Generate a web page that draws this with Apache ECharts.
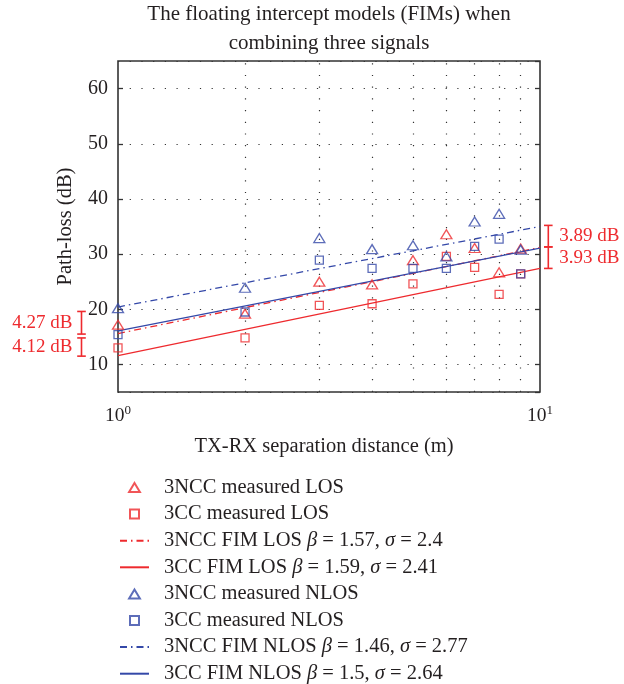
<!DOCTYPE html>
<html>
<head>
<meta charset="utf-8">
<script src="https://cdn.jsdelivr.net/npm/echarts@6/dist/echarts.min.js"></script>
<style>html,body{margin:0;padding:0;background:#fff}#c{width:624px;height:684px}</style>
</head>
<body>
<div id="c"></div>
<script>
// ---- data ----
const distances = [1, 2, 3, 4, 5, 6, 7, 8, 9];
const ncc3Los  = [17.2, 19.2, 25.0, 24.5, 28.9, 33.6, 31.1, 26.7, 31.0];
const cc3Los   = [13.0, 14.8, 20.7, 21.0, 24.6, 29.6, 27.6, 22.7, 26.4];
const ncc3Nlos = [20.2, 23.9, 32.9, 30.9, 31.6, 29.6, 35.9, 37.3, 30.8];
const cc3Nlos  = [15.4, 19.5, 28.9, 27.4, 27.4, 27.4, 31.4, 32.7, 26.4];
// FIM fitted lines: [distance, path-loss] end points
const fimNccLos  = [[1, 15.6], [10, 31.2]];
const fimCcLos   = [[1, 11.6], [10, 27.4]];
const fimNccNlos = [[1, 20.4], [10, 35.0]];
const fimCcNlos  = [[1, 16.1], [10, 31.1]];
// minor x grid positions
const xMinorGrid = [2, 3, 4, 5, 6, 7, 8, 9];
// brackets [low, high] with labels
const leftBrackets  = [[15.5, 19.6], [11.5, 14.8]];
const leftLabels    = ['4.27 dB', '4.12 dB'];
const rightBrackets = [[31.3, 35.2], [27.4, 31.3]];
const rightLabels   = ['3.89 dB', '3.93 dB'];
const seriesNames = [
  '3NCC measured LOS', '3CC measured LOS', '3NCC FIM LOS', '3CC FIM LOS',
  '3NCC measured NLOS', '3CC measured NLOS', '3NCC FIM NLOS', '3CC FIM NLOS'
];
const legendRich = {
  '3NCC FIM LOS':  '3NCC FIM LOS {i|β} = 1.57, {i|σ} = 2.4',
  '3CC FIM LOS':   '3CC FIM LOS {i|β} = 1.59, {i|σ} = 2.41',
  '3NCC FIM NLOS': '3NCC FIM NLOS {i|β} = 1.46, {i|σ} = 2.77',
  '3CC FIM NLOS':  '3CC FIM NLOS {i|β} = 1.5, {i|σ} = 2.64'
};

const RED = '#ee2a2e', BLUE = '#3448a8', INK = '#231f20';
const FONT = '"Liberation Serif", "DejaVu Serif", serif';
const TRI = 'path://M6,0L12,10L0,10Z';
const SQR = 'path://M0,0L10,0L10,10L0,10Z';

const pts = arr => distances.map((d, i) => [d, arr[i]]);

function scatter(name, data, symbol, color, size) {
  return {
    name, type: 'scatter', data: pts(data), symbol, symbolSize: size,
    itemStyle: { color: 'rgba(0,0,0,0)', borderColor: color, borderWidth: 1.3 },
    z: 5, xAxisIndex: 0, yAxisIndex: 0
  };
}
function line(name, data, color, dash, extra) {
  return Object.assign({
    name, type: 'line', data, symbol: 'circle', showSymbol: false,
    lineStyle: { color, width: 1.3, type: dash },
    itemStyle: { color: 'rgba(0,0,0,0)', borderWidth: 0 }, z: 4, xAxisIndex: 0, yAxisIndex: 0
  }, extra || {});
}

function bracketSeries(brackets, labels, side) {
  return {
    type: 'custom', clip: false, silent: true, z: 6,
    xAxisIndex: 0, yAxisIndex: 0,
    data: brackets.map((b, i) => [side === 'left' ? 1 : 10, b[0], b[1], i]),
    renderItem: function (params, api) {
      const xv = api.value(0), lo = api.value(1), hi = api.value(2), idx = api.value(3);
      const pLo = api.coord([xv, lo]), pHi = api.coord([xv, hi]);
      const x = side === 'left' ? pLo[0] - 36.5 : pLo[0] + 8.3;
      const cap = 4.3;
      const st = { stroke: RED, lineWidth: 1.6 };
      return {
        type: 'group',
        children: [
          { type: 'line', shape: { x1: x, y1: pLo[1], x2: x, y2: pHi[1] }, style: st },
          { type: 'line', shape: { x1: x - cap, y1: pLo[1], x2: x + cap, y2: pLo[1] }, style: st },
          { type: 'line', shape: { x1: x - cap, y1: pHi[1], x2: x + cap, y2: pHi[1] }, style: st },
          { type: 'text', style: {
              text: labels[idx],
              x: side === 'left' ? x - 9 : x + 11,
              y: (pLo[1] + pHi[1]) / 2,
              textAlign: side === 'left' ? 'right' : 'left',
              textVerticalAlign: 'middle',
              fill: RED, font: '19px ' + FONT
          } }
        ]
      };
    }
  };
}

const chart = echarts.init(document.getElementById('c'), null, { renderer: 'canvas' });
const dotted = { color: '#333', width: 1.2, type: [1.2, 10.5] };

chart.setOption({
  animation: false,
  backgroundColor: '#fff',
  title: {
    text: 'The floating intercept models (FIMs) when\ncombining three signals',
    left: 329, top: 0, textAlign: 'center', padding: 0,
    textStyle: { fontFamily: FONT, fontSize: 21, fontWeight: 'normal', color: INK, lineHeight: 29 }
  },
  grid: { left: 118, right: 84, top: 61, bottom: 292, show: true, borderColor: '#333', borderWidth: 1.6, backgroundColor: 'rgba(0,0,0,0)' },
  xAxis: [{
    type: 'log', logBase: 10, min: 1, max: 10, position: 'bottom',
    name: 'TX-RX separation distance (m)', nameLocation: 'middle', nameGap: 44,
    nameTextStyle: { fontFamily: FONT, fontSize: 20.5, color: INK, padding: [0, 10, 0, 0] },
    axisLine: { show: false }, axisTick: { show: false },
    splitLine: { show: false },
    axisLabel: {
      margin: 12, fontFamily: FONT, fontSize: 19, color: INK,
      formatter: v => '{b|10}{s|' + Math.round(Math.log10(v)) + '}',
      rich: { b: { fontFamily: FONT, fontSize: 19.5, color: INK }, s: { fontFamily: FONT, fontSize: 13, color: INK, verticalAlign: 'top', padding: [0, 0, 10, 0] } }
    }
  }],
  yAxis: [{
    type: 'value', min: 5, max: 65, splitNumber: 6,
    name: 'Path-loss (dB)', nameLocation: 'middle', nameGap: 42,
    nameTextStyle: { fontFamily: FONT, fontSize: 20.5, color: INK },
    axisLine: { show: false },
    axisTick: { show: true, inside: true, length: 5, lineStyle: { color: '#333', width: 1.3 } },
    splitLine: { show: true, lineStyle: dotted },
    axisLabel: { showMinLabel: false, showMaxLabel: false, margin: 10, fontFamily: FONT, fontSize: 20, color: INK }
  }, {
    type: 'value', min: 5, max: 65, splitNumber: 6, position: 'right',
    axisLine: { show: false },
    axisTick: { show: true, inside: true, length: 5, lineStyle: { color: '#333', width: 1.3 } },
    splitLine: { show: false }, axisLabel: { show: false }
  }],
  legend: {
    orient: 'vertical', left: 119, top: 477, padding: 0, height: 210,
    itemWidth: 29, itemHeight: 9, itemGap: 5.6, symbolKeepAspect: true,
    data: seriesNames,
    textStyle: { fontFamily: FONT, fontSize: 20.5, color: INK, lineHeight: 20, padding: [0, 0, 0, 10],
      rich: { i: { fontFamily: FONT, fontSize: 20.5, fontStyle: 'italic', color: INK } } },
    formatter: n => legendRich[n] || n
  },
  series: [
    scatter(seriesNames[0], ncc3Los, TRI, RED, [11, 9]),
    scatter(seriesNames[1], cc3Los, SQR, RED, 8),
    line(seriesNames[2], fimNccLos, RED, [7, 4, 1.5, 4]),
    line(seriesNames[3], fimCcLos, RED, 'solid', {
      markLine: {
        silent: true, symbol: 'none', label: { show: false }, animation: false,
        lineStyle: dotted, z: 1,
        data: xMinorGrid.map(v => ({ xAxis: v }))
      }
    }),
    scatter(seriesNames[4], ncc3Nlos, TRI, BLUE, [11, 9]),
    scatter(seriesNames[5], cc3Nlos, SQR, BLUE, 8),
    line(seriesNames[6], fimNccNlos, BLUE, [7, 4, 1.5, 4]),
    line(seriesNames[7], fimCcNlos, BLUE, 'solid'),
    bracketSeries(leftBrackets, leftLabels, 'left'),
    bracketSeries(rightBrackets, rightLabels, 'right')
  ]
});
</script>
</body>
</html>
